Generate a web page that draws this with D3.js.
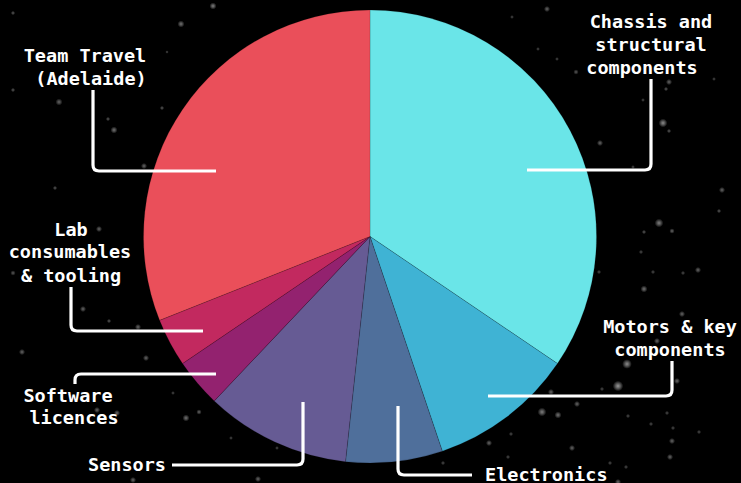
<!DOCTYPE html>
<html>
<head>
<meta charset="utf-8">
<script src="https://cdn.jsdelivr.net/npm/d3@7"></script>
<style>
  html, body { margin: 0; padding: 0; background: #000; }
  svg { display: block; }
  text { font-family: "DejaVu Sans Mono", "Liberation Mono", monospace; font-weight: bold; fill: #fff; }
</style>
</head>
<body>
<div id="chart"></div>
<script>
// ---- data ----
const categories = [
  "Chassis and structural components",
  "Motors & key components",
  "Electronics",
  "Sensors",
  "Software licences",
  "Lab consumables & tooling",
  "Team Travel (Adelaide)"
];
const values = [10000, 3000, 2000, 3000, 1000, 1000, 9000];
const colors = ["#6ae5e8", "#3fb3d4", "#4f6f9b", "#665b94", "#93226f", "#c2295f", "#ea4f5a"];

// label lines as wrapped in the reference
const labelLines = [
  ["Chassis and", "structural", "components"],
  ["Motors & key", "components"],
  ["Electronics"],
  ["Sensors"],
  ["Software", "licences"],
  ["Lab", "consumables", "& tooling"],
  ["Team Travel", "(Adelaide)"]
];

// ---- annotation layout (callout geometry) ----
const callouts = [
  { pts: [[527,170],[651,170],[651,79]],   anchor: "middle", tx: [651,651,642],  ty: [28,51,74] },
  { pts: [[488,396],[672,396],[672,361]],  anchor: "middle", tx: [670,670],      ty: [333,356] },
  { pts: [[398,406],[398,475],[472,475]],  anchor: "start",  tx: [485],          ty: [481] },
  { pts: [[303,402],[303,465],[172,465]],  anchor: "end",    tx: [166],          ty: [471] },
  { pts: [[216,374],[75,374],[75,384]],    anchor: "middle", tx: [68,74],        ty: [402,424] },
  { pts: [[203,331],[71,331],[71,287]],    anchor: "middle", tx: [71,70,71],     ty: [236,258,282] },
  { pts: [[216,171],[93,171],[93,90]],     anchor: "middle", tx: [85,91],        ty: [62,85] }
];

// background stars (decoration)
const stars = [
  [213,6,1.6,.5],[181,24,1.6,.45],[13,13,1,.35],[167,52,.8,.3],[13,90,1,.35],[59,102,1.6,.4],
  [162,108,1,.35],[108,119,1,.35],[114,130,1.6,.45],[144,166,1.4,.4],[55,188,1,.35],[99,229,1.4,.4],
  [547,9,1.4,.4],[512,17,.9,.3],[538,49,.9,.3],[557,59,.9,.3],[576,72,1.2,.35],[669,82,1.4,.4],
  [666,89,1,.35],[714,79,.9,.3],[643,100,.9,.3],[663,123,2,.55],[669,131,1,.35],[600,143,1.4,.4],
  [633,167,.9,.3],[722,190,1.4,.4],[719,211,1,.35],[659,223,2,.5],[672,231,1.2,.4],[644,232,1,.35],
  [83,309,1.4,.4],[109,321,1,.35],[138,327,1.4,.4],[22,352,1.4,.4],[146,358,1.4,.4],[97,410,1.4,.4],
  [117,413,1.4,.4],[186,418,1.6,.45],[199,412,1.2,.4],[231,438,.9,.3],[277,448,.9,.3],[258,479,1.4,.4],
  [133,480,1.4,.4],[13,273,1.2,.35],[173,393,.9,.3],
  [698,270,1.4,.4],[683,273,1,.3],[653,272,1,.3],[641,252,1,.3],[644,289,1.6,.45],[599,272,1,.3],
  [682,314,1.4,.4],[657,341,1.4,.4],[627,364,2.2,.55],[618,386,2.4,.6],[677,381,1.4,.4],[602,389,1,.3],
  [551,392,1.4,.4],[577,404,1.4,.4],[542,412,2,.5],[558,415,1.6,.45],[628,416,1,.3],[667,413,1,.3],
  [651,424,1,.3],[699,432,1,.3],[672,441,1.4,.4],[673,428,1,.3],[572,448,1.4,.4],[489,443,1.4,.4],
  [511,434,1,.3],[670,457,1.4,.4],[610,463,1,.3],[508,457,1,.3],[443,463,1,.3],[626,467,1,.3],[618,482,1.4,.4]
];

// ---- drawing ----
const W = 741, H = 483;
const cx = 370, cy = 236.5, R = 226.5;

const svg = d3.select("#chart").append("svg")
  .attr("width", W).attr("height", H);

svg.append("rect").attr("width", W).attr("height", H).attr("fill", "#000");

const defs = svg.append("defs");
const grad = defs.append("radialGradient").attr("id", "star");
grad.append("stop").attr("offset", "0%").attr("stop-color", "#fff").attr("stop-opacity", 1);
grad.append("stop").attr("offset", "45%").attr("stop-color", "#fff").attr("stop-opacity", 0.6);
grad.append("stop").attr("offset", "100%").attr("stop-color", "#fff").attr("stop-opacity", 0);

svg.append("g").selectAll("circle").data(stars).join("circle")
  .attr("cx", d => d[0]).attr("cy", d => d[1])
  .attr("r", d => d[2] * 2.2)
  .attr("fill", "url(#star)")
  .attr("opacity", d => d[3]);

const pie = d3.pie().sort(null).value(d => d);
const arc = d3.arc().innerRadius(0).outerRadius(R);
const color = d3.scaleOrdinal().domain(categories).range(colors);

const g = svg.append("g").attr("transform", `translate(${cx},${cy})`);
g.selectAll("path").data(pie(values)).join("path")
  .attr("d", arc)
  .attr("fill", (d, i) => color(categories[i]))
  .attr("stroke", "rgba(0,0,0,0.25)")
  .attr("stroke-width", 0.6);

// callout lines with rounded elbows
function roundedPath(pts, r) {
  const [a, b, c] = pts;
  const d1 = [Math.sign(b[0]-a[0]), Math.sign(b[1]-a[1])];
  const d2 = [Math.sign(c[0]-b[0]), Math.sign(c[1]-b[1])];
  const p = d3.path();
  p.moveTo(a[0], a[1]);
  p.lineTo(b[0] - d1[0]*r, b[1] - d1[1]*r);
  p.quadraticCurveTo(b[0], b[1], b[0] + d2[0]*r, b[1] + d2[1]*r);
  p.lineTo(c[0], c[1]);
  return p.toString();
}

const ann = svg.append("g");
ann.selectAll("path").data(callouts).join("path")
  .attr("d", d => roundedPath(d.pts, 6))
  .attr("fill", "none")
  .attr("stroke", "#fff")
  .attr("stroke-width", 3.2);

callouts.forEach((c, i) => {
  const t = ann.append("text").attr("text-anchor", c.anchor).style("font-size", "18.5px");
  labelLines[i].forEach((line, j) => {
    t.append("tspan").attr("x", c.tx[j]).attr("y", c.ty[j]).text(line);
  });
});
</script>
</body>
</html>
